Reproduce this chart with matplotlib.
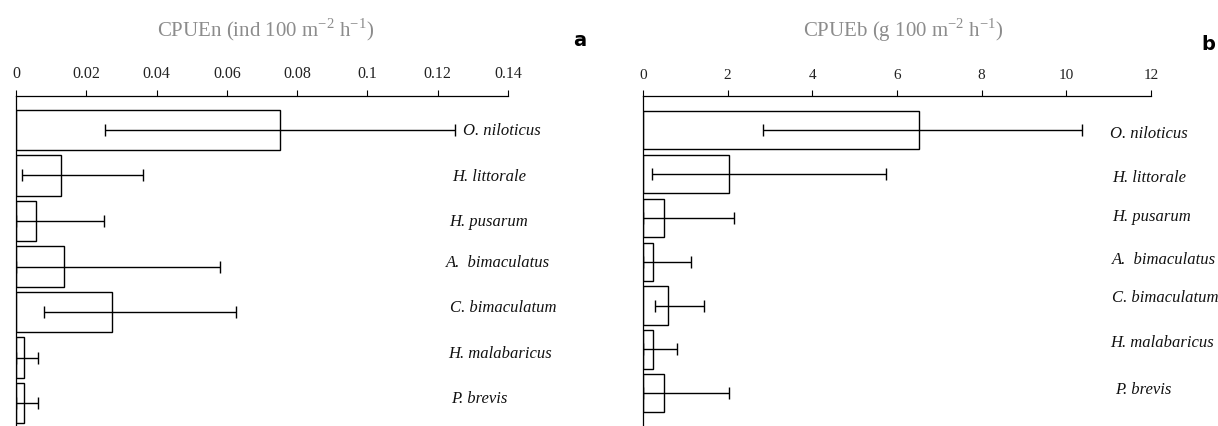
import matplotlib
matplotlib.use("Agg")
import matplotlib.pyplot as plt
import numpy as np

plt.rcParams['mathtext.fontset'] = 'custom'
plt.rcParams['mathtext.rm'] = 'Liberation Serif'

W, H = 1218, 427

species = ['O. niloticus', 'H. littorale', 'H. pusarum', 'A.  bimaculatus',
           'C. bimaculatum', 'H. malabaricus', 'P. brevis']

# CPUE by number (ind 100 m-2 h-1): mean, error bar low and high ends
cpuen_mean = [0.075, 0.0127, 0.0057, 0.0138, 0.0273, 0.0022, 0.0022]
cpuen_low = [0.0252, 0.0018, 0.0, 0.0, 0.0081, 0.0, 0.0]
cpuen_high = [0.125, 0.0361, 0.0251, 0.0581, 0.0626, 0.0064, 0.0064]

# CPUE by biomass (g 100 m-2 h-1)
cpueb_mean = [6.52, 2.02, 0.50, 0.23, 0.58, 0.23, 0.50]
cpueb_low = [2.84, 0.21, 0.0, 0.0, 0.29, 0.0, 0.0]
cpueb_high = [10.36, 5.75, 2.14, 1.14, 1.43, 0.81, 2.04]

fig = plt.figure(figsize=(W / 100, H / 100), dpi=100)


def panel(rect, mean, low, high, xmax, xticks, ticklabels, tick_fs, ylim, height,
          lab_x, lab_y, lab_fs, title, title_x, letter, letter_xy):
    ax = fig.add_axes(rect)
    y = np.arange(len(species))
    mean = np.array(mean)
    xerr = [mean - np.array(low), np.array(high) - mean]
    ax.barh(y, mean, height=height, color='white', edgecolor='black', linewidth=1.0)
    ax.errorbar(mean, y, xerr=xerr, fmt='none', ecolor='black',
                elinewidth=1.0, capsize=4, capthick=1.0)
    ax.set_xlim(0, xmax)
    ax.set_ylim(*ylim)
    ax.set_yticks([])
    ax.xaxis.tick_top()
    ax.set_xticks(xticks)
    ax.set_xticklabels(ticklabels, family='Liberation Serif', fontsize=tick_fs, color='#222222')
    ax.tick_params(axis='x', direction='out', length=4, width=0.8, pad=7)
    for s in ['right', 'bottom']:
        ax.spines[s].set_visible(False)
    ax.spines['top'].set_linewidth(0.9)
    ax.spines['left'].set_linewidth(0.9)
    # species names sit to the right of the bars
    for name, lx, ly in zip(species, lab_x, lab_y):
        fig.text(lx / W, 1 - ly / H, name, family='Liberation Serif', style='italic',
                 fontsize=lab_fs, va='center', ha='left', color='#111111')
    fig.text(title_x / W, 1 - 30 / H, title, family='Liberation Serif',
             fontsize=15, color='#8c8c8c', ha='center', va='center')
    fig.text(letter_xy[0] / W, 1 - letter_xy[1] / H, letter, family='DejaVu Sans',
             fontweight='bold', fontsize=14, ha='center', va='center')
    return ax


panel([16 / W, 0, (508 - 16) / W, 1 - 97 / H],
      cpuen_mean, cpuen_low, cpuen_high, 0.14,
      [0, 0.02, 0.04, 0.06, 0.08, 0.1, 0.12, 0.14],
      ['0', '0.02', '0.04', '0.06', '0.08', '0.1', '0.12', '0.14'], 11.5,
      (6.505, -0.747), 0.88,
      [463, 452, 449, 446, 450, 448, 451],
      [131, 177, 222, 263, 308, 354, 399], 12,
      r'CPUEn (ind 100 m$^{\mathrm{-2}}$ h$^{\mathrm{-1}}$)', 266,
      'a', (580, 40))

panel([643 / W, 0, (1151 - 643) / W, 1 - 97 / H],
      cpueb_mean, cpueb_low, cpueb_high, 12,
      [0, 2, 4, 6, 8, 10, 12],
      ['0', '2', '4', '6', '8', '10', '12'], 11,
      (6.75, -0.783), 0.875,
      [1110, 1112, 1112, 1112, 1112, 1110, 1115],
      [134, 178, 217, 260, 298, 343, 390], 12,
      r'CPUEb (g 100 m$^{\mathrm{-2}}$ h$^{\mathrm{-1}}$)', 903,
      'b', (1208, 44))

fig.savefig('out.png', dpi=100)
